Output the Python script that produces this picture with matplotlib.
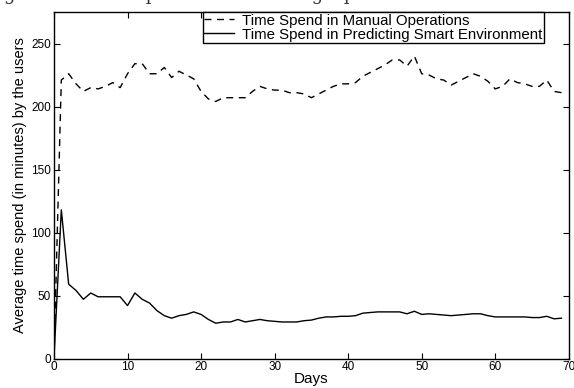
import matplotlib
matplotlib.use("Agg")
import matplotlib.pyplot as plt
import numpy as np

plt.rcParams['font.family'] = ['Liberation Sans', 'DejaVu Sans']

# average minutes per day
manual = [0, 221, 226, 218, 212, 215, 214, 216, 219, 215,
          226, 234, 234, 226, 226, 231, 223, 228, 225, 222,
          212, 206, 204, 207, 207, 207, 207, 212, 216, 214,
          213, 213, 211, 211, 210, 207, 210, 213, 216, 218,
          218, 219, 224, 227, 230, 233, 237, 237, 232, 240,
          226, 225, 222, 221, 217, 220, 223, 226, 224, 220,
          214, 216, 222, 219, 218, 216, 216, 221, 212, 211]
smart = [0, 118, 59, 54, 47, 52, 49, 49, 49, 49,
         42, 52, 47, 44, 38, 34, 32, 34, 35, 37,
         35, 31, 28, 29, 29, 31, 29, 30, 31, 30,
         29.5, 29, 29, 29, 30, 30.5, 32, 33, 33, 33.5,
         33.5, 34, 36, 36.5, 37, 37, 37, 37, 35.5, 37.5,
         35, 35.5, 35, 34.5, 34, 34.5, 35, 35.5, 35.5, 34,
         33, 33, 33, 33, 33, 32.5, 32.5, 33.5, 31.5, 32]
days = np.arange(len(manual))

labels = ['Time Spend in Manual Operations',
          'Time Spend in Predicting Smart Environment']
xticks = [0, 10, 20, 30, 40, 50, 60, 70]
yticks = [0, 50, 100, 150, 200, 250]

fig = plt.figure(figsize=(5.74, 3.88), dpi=100)
ax = fig.add_axes([0.094, 0.076, 0.897, 0.893])

ax.plot(days, manual, color='black', lw=1.0, dashes=(5, 4), label=labels[0])
ax.plot(days, smart, color='black', lw=1.0, label=labels[1])

ax.set_xlim(0, 70)
ax.set_ylim(0, 275)
ax.set_xticks(xticks)
ax.set_yticks(yticks)
ax.tick_params(direction='in', top=True, right=True, length=4, width=0.8,
               labelsize=8.5, pad=2)
for s in ax.spines.values():
    s.set_linewidth(1.0)

ax.set_xlabel('Days', fontsize=11, labelpad=-1)
ax.set_ylabel('Average time spend (in minutes) by the users', fontsize=10.5, labelpad=3)

leg = ax.legend(loc='upper right', bbox_to_anchor=(0.951, 1.0), borderaxespad=0,
                fontsize=10.8, handlelength=2.0, handletextpad=0.5,
                borderpad=0.1, labelspacing=0.0, fancybox=False, framealpha=1)
leg.get_frame().set_edgecolor('black')
leg.get_frame().set_linewidth(1.0)

# caption of the page, cut off at the top edge
fig.text(0.005, 1.012, 'g', family='DejaVu Serif', fontsize=13, va='center', color='#333333')
fig.text(0.62, 1.012, 'Time Spend in Scheduling Operation of Smart Environment',
         family='DejaVu Serif', fontsize=13, va='center', ha='center', color='#333333')

fig.savefig('out.png', dpi=100)
